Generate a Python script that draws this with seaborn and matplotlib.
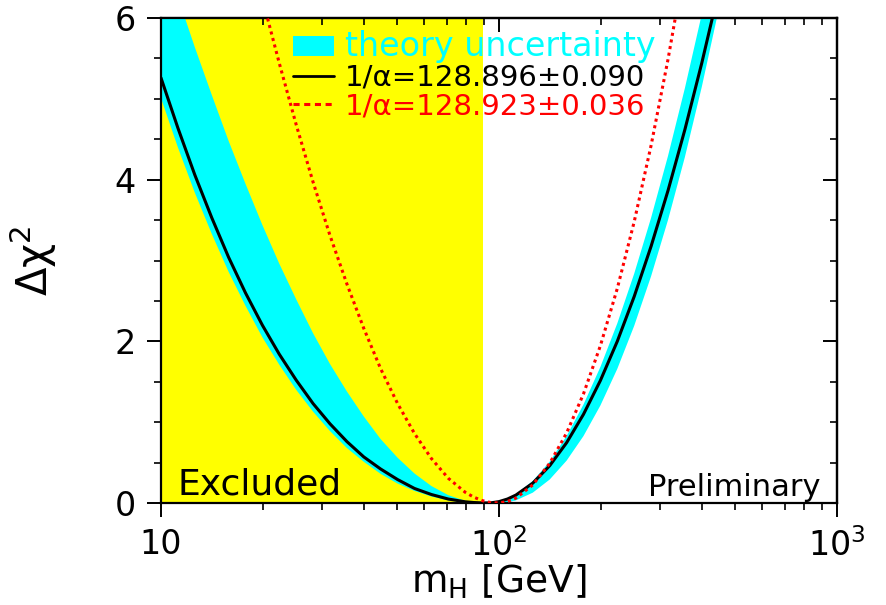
import seaborn as sns
import matplotlib.pyplot as plt
from matplotlib.patches import Patch
from matplotlib.lines import Line2D
from matplotlib.ticker import MultipleLocator, NullFormatter

# values
mh = [10.0, 11.22, 12.59, 14.13, 15.85, 17.78, 19.95, 22.39, 25.12, 28.18,
      31.62, 35.48, 39.81, 44.67, 50.12, 56.23, 63.10, 70.79, 79.43, 84.14,
      89.13, 94.41, 100.0, 105.9, 112.2, 125.9, 141.3, 158.5, 177.8, 199.5,
      223.9, 251.2, 281.8, 316.2, 354.8, 398.1, 446.7, 501.2]
chi2_black = [5.26, 4.64, 4.06, 3.53, 3.04, 2.60, 2.20, 1.84, 1.52, 1.23,
              0.98, 0.76, 0.57, 0.42, 0.29, 0.18, 0.105, 0.049, 0.015, 0.006,
              0.001, 0.001, 0.017, 0.049, 0.098, 0.246, 0.462, 0.746, 1.097, 1.515,
              2.001, 2.555, 3.176, 3.864, 4.620, 5.444, 6.335, 7.293]
chi2_red = [11.90, 10.86, 9.86, 8.90, 7.97, 7.08, 6.24, 5.44, 4.68, 3.97,
            3.31, 2.71, 2.16, 1.66, 1.23, 0.86, 0.55, 0.306, 0.133, 0.073,
            0.030, 0.006, 0.001, 0.018, 0.061, 0.224, 0.492, 0.866, 1.350, 1.946,
            2.655, 3.480, 4.423, 5.487, 6.673, 7.985, 9.42, 10.99]
band_hi = [6.90, 6.26, 5.64, 5.05, 4.48, 3.95, 3.44, 2.96, 2.52, 2.10,
           1.72, 1.38, 1.07, 0.79, 0.56, 0.365, 0.21, 0.097, 0.027, 0.008,
           0.001, 0.002, 0.018, 0.054, 0.108, 0.273, 0.513, 0.828, 1.218, 1.683,
           2.223, 2.838, 3.528, 4.293, 5.133, 6.048, 7.038, 8.103]
band_lo = [5.01, 4.40, 3.84, 3.33, 2.86, 2.44, 2.05, 1.71, 1.40, 1.13,
           0.89, 0.68, 0.51, 0.36, 0.24, 0.149, 0.080, 0.033, 0.007, 0.001,
           0.0, 0.0, 0.0, 0.008, 0.032, 0.128, 0.291, 0.524, 0.828, 1.206,
           1.660, 2.192, 2.805, 3.50, 4.280, 5.148, 6.105, 7.154]
excluded_limit = 89.8
x_ticks = [10, 100, 1000]
x_ticklabels = ['10', '$10^{2}$', '$10^{3}$']
y_ticks = [0, 2, 4, 6]
legend_labels = ['theory uncertainty', '1/\u03b1=128.896\u00b10.090', '1/\u03b1=128.923\u00b10.036']

sns.set_style('ticks')
plt.rcParams['font.family'] = ['DejaVu Sans']
plt.rcParams.update({'text.color': 'black', 'axes.labelcolor': 'black',
                     'axes.edgecolor': 'black', 'xtick.color': 'black',
                     'ytick.color': 'black'})

fig, ax = plt.subplots(figsize=(8.86, 6.05), dpi=100)
fig.subplots_adjust(left=0.1817, right=0.9447, bottom=0.1686, top=0.9702)

ax.set_xscale('log')
ax.axvspan(x_ticks[0], excluded_limit, color='#ffff00', lw=0, zorder=0)
ax.fill_between(mh, band_lo, band_hi, color='#00ffff', lw=0, zorder=1)
sns.lineplot(x=mh, y=chi2_black, color='black', lw=2.2, ax=ax, zorder=3)
sns.lineplot(x=mh, y=chi2_red, color='red', lw=2.2, linestyle=(0, (1, 1.2)), ax=ax, zorder=4)

ax.set_xlim(10, 1000)
ax.set_ylim(0, 6)

# axis ticks: outside on left/bottom, inside on top/right
ax.set_xticks(x_ticks, x_ticklabels)
ax.xaxis.set_minor_formatter(NullFormatter())
ax.set_yticks(y_ticks)
ax.yaxis.set_minor_locator(MultipleLocator(0.5))
ax.tick_params(which='major', direction='out', length=10, width=1.4, labelsize=24, pad=8)
ax.tick_params(which='minor', direction='out', length=5, width=1.2)

secx = ax.secondary_xaxis('top')
secx.set_xticks(x_ticks)
secx.xaxis.set_major_formatter(NullFormatter())
secx.xaxis.set_minor_formatter(NullFormatter())
secx.tick_params(which='major', direction='in', length=10, width=1.4)
secx.tick_params(which='minor', direction='in', length=5, width=1.2)

secy = ax.secondary_yaxis('right')
secy.set_yticks(y_ticks)
secy.yaxis.set_minor_locator(MultipleLocator(0.5))
secy.yaxis.set_major_formatter(NullFormatter())
secy.tick_params(which='major', direction='in', length=10, width=1.4)
secy.tick_params(which='minor', direction='in', length=5, width=1.2)

for sp in ax.spines.values():
    sp.set_linewidth(1.6)
secx.spines['top'].set_linewidth(1.6)
secy.spines['right'].set_linewidth(1.6)

ax.set_xlabel('m$_\\mathrm{H}$ [GeV]', fontsize=27, labelpad=0)
ax.set_ylabel('\u0394\u03c7$^{2}$', fontsize=30, labelpad=40)

handles = [Patch(facecolor='#00ffff', edgecolor='none'),
           Line2D([], [], color='black', lw=2.0),
           Line2D([], [], color='red', lw=2.2, linestyle=(0, (2, 1.5)))]
leg = ax.legend(handles, legend_labels, loc='upper left', bbox_to_anchor=(0.195, 0.975),
                frameon=False, fontsize=21, handlelength=1.4, handletextpad=0.4,
                labelspacing=0.02, borderpad=0, borderaxespad=0,
                labelcolor=['#00ffff', 'black', 'red'])
leg.get_texts()[0].set_fontsize(24)

ax.text(0.024, 0.018, 'Excluded', transform=ax.transAxes, fontsize=26, va='baseline', zorder=5)
ax.text(0.975, 0.014, 'Preliminary', transform=ax.transAxes, fontsize=22,
        ha='right', va='baseline', zorder=5)

fig.savefig('out.png', dpi=100)
